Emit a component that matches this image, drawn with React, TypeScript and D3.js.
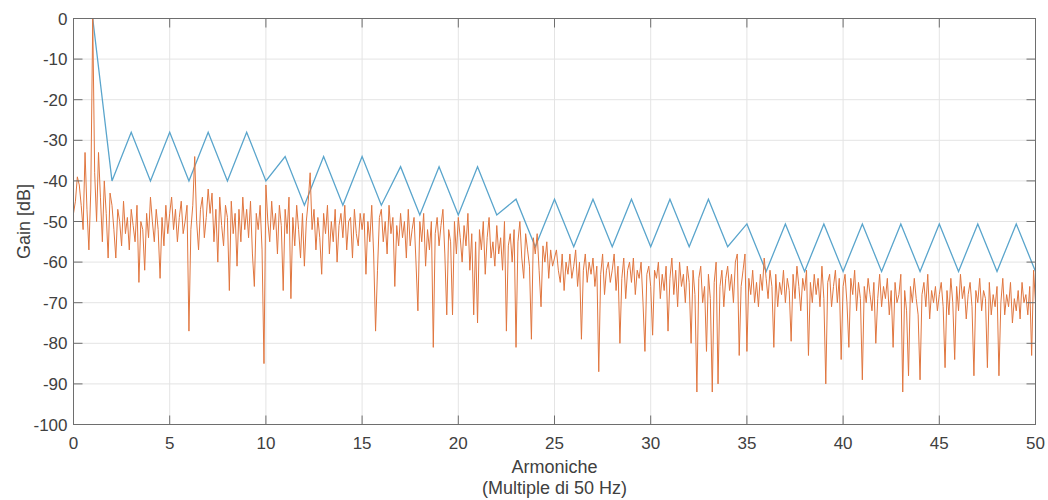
import React from "react";
import * as d3 from "d3";

// limit mask (one value per harmonic)
const maskHarmonics = d3.range(1, 51);
const maskGain = [
  0, -40, -28, -40, -28, -40, -28, -40, -28, -40,
  -34, -46, -34, -46, -34, -46, -36.5, -48.4, -36.5, -48.4,
  -36.5, -48.4, -44.5, -56.2, -44.5, -56.2, -44.5, -56.2, -44.5, -56.2,
  -44.5, -56.2, -44.5, -56.2, -50.6, -62.3, -50.6, -62.3, -50.6, -62.3,
  -50.6, -62.3, -50.6, -62.3, -50.6, -62.3, -50.6, -62.3, -50.6, -62.3,
];

// measured spectrum, sampled every 0.1 harmonic (one row per harmonic)
const spectrumStep = 0.1;
const spectrumGain = [
  -48, -45, -39, -41, -46, -52, -33, -47, -57, -42,
  0, -38, -50, -33, -44, -55, -40, -48, -59, -43,
  -46, -52, -59, -47, -50, -56, -45, -53, -49, -57,
  -47, -51, -55, -46, -65, -50, -52, -62, -48, -54,
  -44, -50, -55, -47, -52, -64, -49, -56, -46, -53,
  -48, -44, -52, -47, -55, -49, -45, -53, -50, -46,
  -77, -52, -46, -34, -50, -57, -47, -44, -54, -49,
  -42, -48, -43, -55, -47, -60, -44, -51, -56, -46,
  -49, -67, -45, -53, -48, -61, -47, -55, -44, -52,
  -47, -54, -45, -58, -66, -48, -52, -46, -57, -85,
  -41, -50, -55, -45, -52, -48, -58, -46, -51, -67,
  -47, -53, -44, -69, -49, -56, -46, -52, -59, -48,
  -61, -50, -45, -38, -52, -47, -57, -49, -54, -63,
  -48, -53, -46, -58, -50, -55, -47, -60, -51, -48,
  -54, -46, -57, -50, -49, -59, -47, -53, -56, -48,
  -52, -48, -63, -50, -55, -46, -58, -77, -62, -49,
  -47, -55, -50, -58, -46, -53, -49, -66, -51, -56,
  -48, -54, -50, -59, -47, -56, -52, -49, -60, -72,
  -50, -55, -48, -61, -52, -57, -50, -81, -53, -49,
  -56, -51, -47, -58, -73, -52, -55, -73, -50, -58,
  -49, -54, -60, -51, -56, -48, -62, -53, -73, -55,
  -75, -52, -57, -50, -63, -54, -49, -59, -55, -61,
  -51, -58, -54, -62, -50, -77, -56, -53, -60, -52,
  -81, -55, -50, -59, -64, -53, -57, -61, -79, -54,
  -58, -53, -62, -71, -56, -60, -55, -64, -57, -61,
  -59, -57, -62, -65, -58, -67, -60, -63, -58, -64,
  -61, -57, -66, -60, -79, -62, -58, -65, -60, -63,
  -59, -66, -61, -87, -63, -58, -68, -62, -60, -65,
  -62, -58, -67, -61, -80, -64, -59, -69, -62, -60,
  -65, -59, -68, -62, -64, -60, -70, -82, -63, -61,
  -66, -78, -62, -64, -60, -69, -63, -67, -61, -77,
  -64, -59, -68, -62, -71, -60, -66, -63, -70, -61,
  -65, -80, -62, -68, -92, -64, -61, -70, -66, -82,
  -63, -69, -92, -65, -60, -90, -66, -62, -71, -64,
  -61, -67, -63, -70, -60, -58, -83, -66, -62, -58,
  -82, -64, -68, -62, -70, -65, -71, -63, -67, -59,
  -64, -69, -62, -66, -81, -63, -71, -65, -68, -62,
  -70, -64, -67, -79.5, -63, -69, -61, -66, -72, -64,
  -67, -62, -83, -65, -70, -63, -68, -64, -71, -61,
  -69, -90, -65, -63, -71, -66, -62, -70, -64, -84,
  -66, -63, -70, -81, -64, -68, -62, -72, -65, -69,
  -89, -66, -70, -64, -68, -72, -65, -80, -69, -63,
  -71, -66, -69, -64, -73, -67, -81, -65, -70, -68,
  -63, -92, -67, -72, -88, -66, -70, -64, -69, -73,
  -89, -68, -65, -71, -63, -74, -67, -70, -66, -72,
  -68, -65, -71, -86, -67, -73, -64, -70, -84, -66,
  -72, -63, -69, -66, -74, -68, -65, -71, -88, -67,
  -70, -64, -72, -67, -69, -86, -65, -73, -68, -71,
  -66, -88, -70, -64, -73, -68, -71, -65, -75, -69,
  -72, -67, -74, -65, -70, -68, -73, -66, -83, -62,
  -70,
];

const xTicks = [0, 5, 10, 15, 20, 25, 30, 35, 40, 45, 50];
const yTicks = [0, -10, -20, -30, -40, -50, -60, -70, -80, -90, -100];

const width = 1048;
const height = 500;
const font = "'Liberation Sans', Arial, Helvetica, sans-serif";
const textColor = "#404040";
const axisColor = "#6e6e6e";
const gridColor = "#e4e4e4";

export default function App() {
  const x = d3.scaleLinear().domain([0, 50]).range([73.5, 1035.5]);
  const y = d3.scaleLinear().domain([-100, 0]).range([424.5, 18.5]);

  const mask = maskHarmonics.map((h, i) => [h, maskGain[i]] as [number, number]);
  const spectrum = spectrumGain.map((g, i) => [i * spectrumStep, g] as [number, number]);

  const line = d3
    .line<[number, number]>()
    .x((d) => x(d[0]))
    .y((d) => y(d[1]));

  const [x0, x1] = x.range();
  const [y0, y1] = y.range();
  const tickLen = 9;

  return (
    <svg
      width={width}
      height={height}
      style={{ position: "absolute", left: 0, top: 0, background: "#fff" }}
      fontFamily={font}
    >
      {/* grid */}
      {xTicks.map((t) => (
        <line key={"gx" + t} x1={x(t)} x2={x(t)} y1={y1} y2={y0} stroke={gridColor} />
      ))}
      {yTicks.map((t) => (
        <line key={"gy" + t} x1={x0} x2={x1} y1={y(t)} y2={y(t)} stroke={gridColor} />
      ))}

      <defs>
        <clipPath id="plot">
          <rect x={x0} y={y1} width={x1 - x0} height={y0 - y1} />
        </clipPath>
      </defs>

      <g clipPath="url(#plot)" fill="none">
        <path d={line(mask) ?? ""} stroke="#5aa5cc" strokeWidth={1.3} />
        <path d={line(spectrum) ?? ""} stroke="#e0763f" strokeWidth={1} strokeLinejoin="round" />
      </g>

      {/* box and ticks */}
      <rect x={x0} y={y1} width={x1 - x0} height={y0 - y1} fill="none" stroke={axisColor} />
      {xTicks.map((t) => (
        <g key={"tx" + t} stroke={axisColor}>
          <line x1={x(t)} x2={x(t)} y1={y0} y2={y0 - tickLen} />
          <line x1={x(t)} x2={x(t)} y1={y1} y2={y1 + tickLen} />
        </g>
      ))}
      {yTicks.map((t) => (
        <g key={"ty" + t} stroke={axisColor}>
          <line x1={x0} x2={x0 + tickLen} y1={y(t)} y2={y(t)} />
          <line x1={x1} x2={x1 - tickLen} y1={y(t)} y2={y(t)} />
        </g>
      ))}

      {/* tick labels */}
      {xTicks.map((t) => (
        <text key={"lx" + t} x={x(t)} y={449} textAnchor="middle" fontSize={17} fill={textColor}>
          {t}
        </text>
      ))}
      {yTicks.map((t) => (
        <text
          key={"ly" + t}
          x={x0 - 6}
          y={y(t)}
          dy="0.36em"
          textAnchor="end"
          fontSize={17}
          fill={textColor}
        >
          {t}
        </text>
      ))}

      {/* axis labels */}
      <text
        transform={`translate(30, ${(y0 + y1) / 2}) rotate(-90)`}
        textAnchor="middle"
        fontSize={18}
        fill={textColor}
      >
        Gain [dB]
      </text>
      <text x={(x0 + x1) / 2} y={473} textAnchor="middle" fontSize={18} fill={textColor}>
        Armoniche
      </text>
      <text x={(x0 + x1) / 2} y={494} textAnchor="middle" fontSize={18} fill={textColor}>
        (Multiple di 50 Hz)
      </text>
    </svg>
  );
}
